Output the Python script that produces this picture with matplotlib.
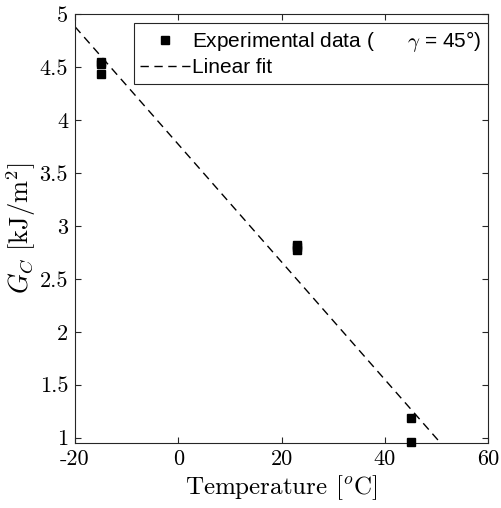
import numpy as np
import matplotlib
matplotlib.use("Agg")
import matplotlib.pyplot as plt

plt.rcParams["mathtext.fontset"] = "cm"
plt.rcParams["axes.unicode_minus"] = False
plt.rcParams["axes.formatter.use_mathtext"] = False

# Measured critical energy release rate at each test temperature
temperature = [-15, -15, -15, 23, 23, 23, 45, 45]
gc_values = [4.55, 4.53, 4.43, 2.82, 2.80, 2.77, 1.19, 0.96]

# Linear fit G_C = intercept + slope * T
fit_slope = -0.0555
fit_intercept = 3.77
fit_range = [-20, 60]

xticks = [-20, 0, 20, 40, 60]
yticks = [1, 1.5, 2, 2.5, 3, 3.5, 4, 4.5, 5]

W, H = 501, 508
fig = plt.figure(figsize=(W / 100, H / 100), dpi=100)
ax = fig.add_axes([75 / W, 1 - 443 / H, (488 - 75) / W, (443 - 14) / H])

dark = "#262626"

ax.plot(temperature, gc_values, linestyle="none", marker="s", markersize=6,
        color="black", clip_on=False, zorder=3,
        label="Experimental data (      $\\gamma$ = 45°)")

t_fit = np.array(fit_range, dtype=float)
ax.plot(t_fit, fit_intercept + fit_slope * t_fit, color="black", linewidth=1.0,
        dashes=(6, 4), label="Linear fit")

ax.set_xlim(-20, 60)
ax.set_ylim(0.95, 5)
ax.set_xticks(xticks)
ax.set_yticks(yticks)
ax.set_xticklabels([str(v) for v in xticks])
ax.set_yticklabels([f"{v:g}" for v in yticks])

for lbl in ax.get_xticklabels() + ax.get_yticklabels():
    lbl.set_fontfamily("cmr10")
    lbl.set_fontsize(16)

ax.tick_params(direction="in", top=True, right=True, length=4, width=0.8,
               color=dark, labelcolor="black", pad=5)
for s in ax.spines.values():
    s.set_color(dark)
    s.set_linewidth(0.8)

ax.set_xlabel("Temperature [$^o$C]", fontfamily="cmr10", fontsize=18, labelpad=3)
ax.set_ylabel(r"$G_C\ [\mathrm{kJ/m}^2]$", fontsize=19, labelpad=1)

leg = ax.legend(loc="upper right", bbox_to_anchor=(1.0, 1 - 9 / 429),
                borderaxespad=0, frameon=True, fancybox=False, shadow=False,
                prop={"family": "Liberation Sans", "size": 15},
                handlelength=2.4, handletextpad=0.1, borderpad=0.3,
                labelspacing=0.2, markerscale=1.0)
leg.get_frame().set_edgecolor(dark)
leg.get_frame().set_linewidth(0.8)
leg.get_frame().set_alpha(1)

fig.savefig("out.png", dpi=100)
